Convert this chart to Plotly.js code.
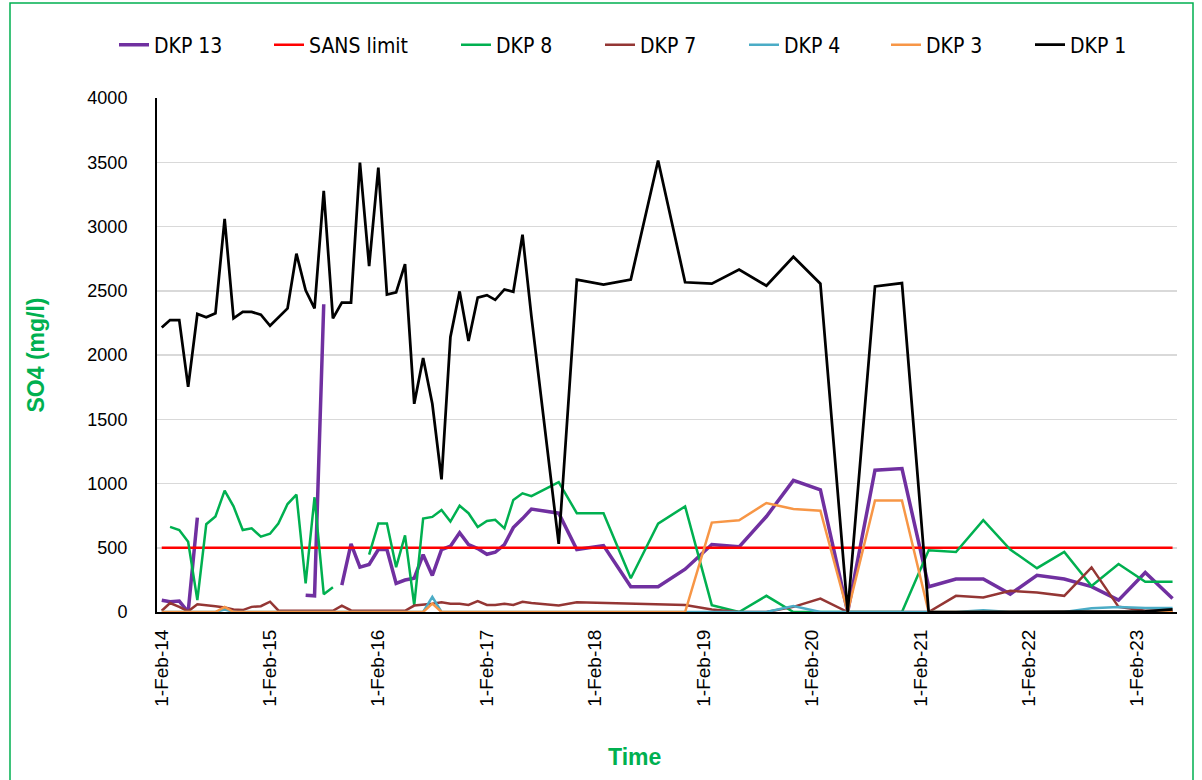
<!DOCTYPE html>
<html>
<head>
<meta charset="utf-8">
<script src="https://cdn.plot.ly/plotly-3.0.1.min.js"></script>
<style>
html,body{margin:0;padding:0;background:#fff;}
#chart{width:1202px;height:780px;}
</style>
</head>
<body>
<div id="chart"></div>
<script>
// Sampling dates (monthly to Jul 2017, then irregular / quarterly)
const dates = [
 '2014-02-01','2014-03-01','2014-04-01','2014-05-01','2014-06-01','2014-07-01','2014-08-01','2014-09-01','2014-10-01','2014-11-01','2014-12-01',
 '2015-01-01','2015-02-01','2015-03-01','2015-04-01','2015-05-01','2015-06-01','2015-07-01','2015-08-01','2015-09-01','2015-10-01','2015-11-01','2015-12-01',
 '2016-01-01','2016-02-01','2016-03-01','2016-04-01','2016-05-01','2016-06-01','2016-07-01','2016-08-01','2016-09-01','2016-10-01','2016-11-01','2016-12-01',
 '2017-01-01','2017-02-01','2017-03-01','2017-04-01','2017-05-01','2017-06-01','2017-07-01','2017-10-01','2017-12-01',
 '2018-03-01','2018-06-01','2018-09-01','2018-12-01',
 '2019-03-01','2019-06-01','2019-09-01','2019-12-01',
 '2020-03-01','2020-06-01','2020-09-01','2020-12-01',
 '2021-03-01','2021-06-01','2021-09-01','2021-12-01',
 '2022-03-01','2022-06-01','2022-09-01','2022-12-01',
 '2023-03-01','2023-06-01'
];

const dkp13 = [92,80,85,0,735,null,null,null,null,null,null,
 null,null,null,null,null,131,126,2395,null,210,530,349,
 370,486,486,223,249,263,446,284,486,512,617,525,
 494,449,465,525,657,727,801,769,486,
 517,197,197,333,
 525,507,743,1024,
 951,0,1103,1116,
 197,257,257,139,
 286,257,197,92,
 307,105];

const sansLimit = dates.map(() => 500);

const dkp8 = [null,662,638,546,92,683,743,945,822,638,651,
 586,609,688,840,914,223,893,139,192,null,null,null,
 446,688,688,349,596,53,727,740,793,704,827,769,
 662,709,717,651,872,924,901,1011,769,
 769,263,688,822,
 53,0,126,0,
 0,0,0,0,
 480,467,714,486,
 341,467,202,373,
 236,236];

const dkp7 = [10,70,40,5,60,55,45,35,20,15,40,
 45,80,12,10,10,10,10,10,10,50,12,10,
 10,10,10,10,10,50,55,65,75,65,65,55,
 85,55,55,65,55,80,70,50,75,
 70,60,60,55,
 20,0,0,40,
 105,0,0,0,
 0,126,113,165,
 152,126,347,40,
 10,10];

const dkp4 = [0,0,0,0,0,0,0,20,0,0,0,
 0,0,0,0,0,0,0,0,0,0,0,0,
 0,0,0,0,0,0,0,118,0,0,0,0,
 0,0,0,0,0,0,0,0,0,
 0,0,0,0,
 0,0,0,47,
 0,0,0,0,
 0,0,13,0,
 0,0,30,39,
 32,32];

const dkp3 = [0,0,0,0,0,0,0,40,0,0,0,
 0,0,0,0,0,0,0,0,0,0,0,0,
 0,0,0,0,0,0,0,65,0,0,0,0,
 0,0,0,0,0,0,0,0,0,
 0,0,0,0,
 696,714,848,801,
 788,0,867,867,
 0,0,0,0,
 0,0,0,0,
 0,0];

const dkp1 = [2214,2272,2272,1752,2319,2293,2324,3059,2285,2335,2335,
 2314,2227,2295,2363,2789,2503,2363,3277,2285,2408,2408,3498,
 2692,3459,2471,2487,2707,1620,1977,1620,1032,2140,2495,2109,
 2447,2466,2429,2510,2492,2936,2300,530,2587,
 2547,2587,3514,2566,
 2555,2665,2539,2765,
 2555,0,2534,2560,
 0,0,0,0,
 0,0,0,0,
 5,20];

const seriesNames = ['DKP 13','SANS limit','DKP 8','DKP 7','DKP 4','DKP 3','DKP 1'];
const seriesColors = ['#7030A0','#FF0000','#00B050','#943634','#4BACC6','#F79646','#000000'];
const seriesWidths = [3.5,2.5,2.5,2.5,2.5,2.5,2.75];
const seriesValues = [dkp13,sansLimit,dkp8,dkp7,dkp4,dkp3,dkp1];

const tickDates = ['2014-02-01','2015-02-01','2016-02-01','2017-02-01','2018-02-01','2019-02-01','2020-02-01','2021-02-01','2022-02-01','2023-02-01'];
const tickLabels = ['1-Feb-14','1-Feb-15','1-Feb-16','1-Feb-17','1-Feb-18','1-Feb-19','1-Feb-20','1-Feb-21','1-Feb-22','1-Feb-23'];
const yTicks = [0,500,1000,1500,2000,2500,3000,3500,4000];

// legend text start positions (px) for each entry
const legendTextX = [156,311,498,642,786,928,1072];

const L = 157, R = 25, T = 98, B = 168, W = 1202, H = 780;
const plotW = W - L - R, plotH = H - T - B;

const legendFont = {family:'"Liberation Sans Narrow","Arial Narrow","DejaVu Sans Condensed",sans-serif', size:21, color:'#000'};

const traces = seriesNames.map((n,i) => ({
  type:'scatter', mode:'lines', name:n,
  x:dates, y:seriesValues[i],
  line:{color:seriesColors[i], width:seriesWidths[i]},
  connectgaps:false,
  legend: i === 0 ? 'legend' : 'legend' + (i+1),
  hoverinfo:'x+y+name'
}));

const layout = {
  width:W, height:H,
  margin:{l:L, r:R, t:T, b:B, pad:0},
  paper_bgcolor:'#ffffff', plot_bgcolor:'#ffffff',
  showlegend:true,
  font:{family:'"Liberation Sans",Arial,sans-serif', color:'#000'},
  xaxis:{
    type:'date', range:['2014-01-16','2023-06-16'],
    tickmode:'array', tickvals:tickDates, ticktext:tickLabels,
    tickangle:-90, ticks:'', showgrid:false, zeroline:false,
    showline:true, linecolor:'#000', linewidth:2,
    ticklabelstandoff:8,
    tickfont:{family:'"Liberation Sans",Arial,sans-serif', size:19, color:'#000'}
  },
  yaxis:{
    range:[0,4000], tickmode:'array', tickvals:yTicks,
    ticks:'', showgrid:true, gridcolor:'#D9D9D9', gridwidth:1.5,
    zeroline:false, showline:true, linecolor:'#000', linewidth:2,
    ticklabelstandoff:24,
    tickfont:{family:'"Liberation Sans",Arial,sans-serif', size:18, color:'#000'},
    title:{text:'SO4 (mg/l)', standoff:36,
      font:{family:'"Liberation Sans",Arial,sans-serif', size:23, color:'#00B050', weight:'bold'}}
  },
  annotations:[{
    text:'Time', showarrow:false, xref:'paper', yref:'paper',
    x:(634 - L)/plotW, y:(H - B - 757)/plotH, xanchor:'center', yanchor:'middle',
    font:{family:'"Liberation Sans",Arial,sans-serif', size:23, color:'#00B050', weight:'bold'}
  }],
  shapes:[{
    type:'rect', xref:'paper', yref:'paper', layer:'below',
    x0:(10 - L)/plotW, x1:(1193 - L)/plotW,
    y0:(H - B - 790)/plotH, y1:(H - B - 3)/plotH,
    line:{color:'#00B050', width:1.5}, fillcolor:'rgba(0,0,0,0)'
  }]
};

seriesNames.forEach((n,i) => {
  const key = i === 0 ? 'legend' : 'legend' + (i+1);
  layout[key] = {
    orientation:'h', x:(legendTextX[i] - 42 - L)/plotW, xanchor:'left',
    y:(H - B - 45)/plotH, yanchor:'middle',
    bgcolor:'rgba(0,0,0,0)', borderwidth:0,
    font:legendFont
  };
});

Plotly.newPlot('chart', traces, layout, {displayModeBar:false, staticPlot:true});
</script>
</body>
</html>
